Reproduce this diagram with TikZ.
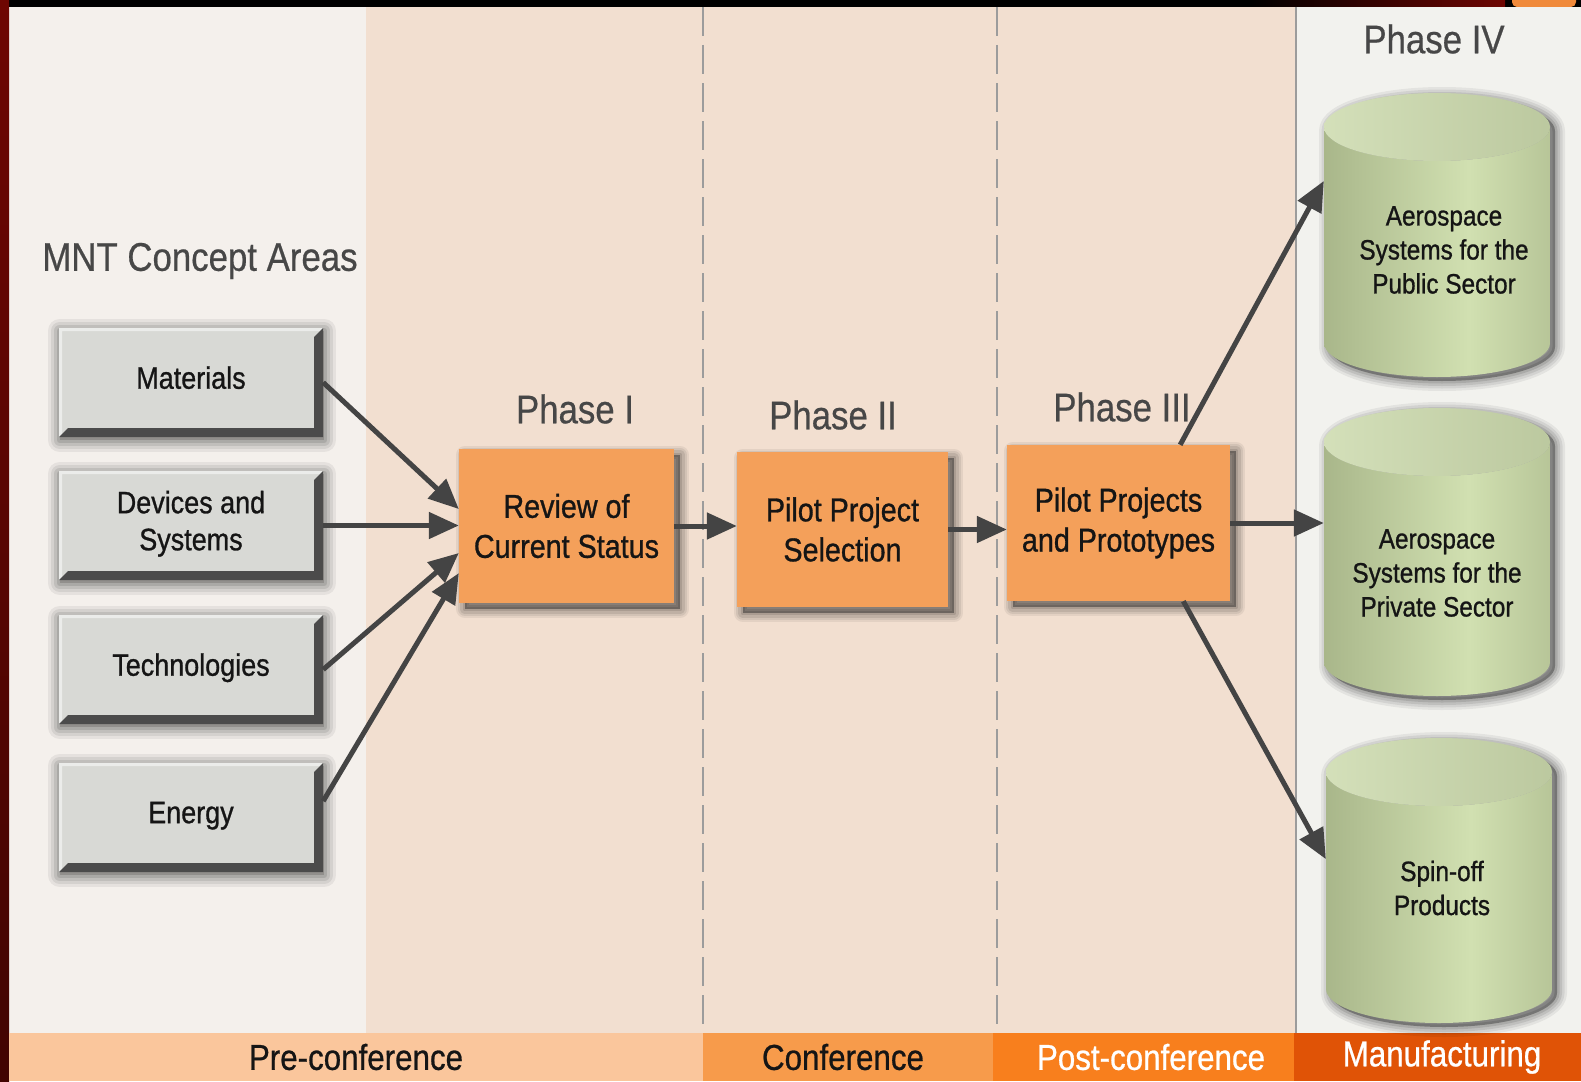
\documentclass[tikz,border=0pt]{standalone}
\usepackage{fontspec}
\setmainfont{Liberation Sans}[FakeStretch=0.87]
\usetikzlibrary{arrows.meta,calc}

\definecolor{leftbg}{HTML}{F4F0EC}
\definecolor{peach}{HTML}{F2DFD0}
\definecolor{rightbg}{HTML}{F2F2EE}
\definecolor{bandA}{HTML}{FAC69C}
\definecolor{bandB}{HTML}{F79B4B}
\definecolor{bandC}{HTML}{F87F1D}
\definecolor{bandD}{HTML}{E05306}
\definecolor{boxgray}{HTML}{D8D9D5}
\definecolor{bevel}{HTML}{4B4B4B}
\definecolor{stepor}{HTML}{F4A05A}
\definecolor{arrowc}{HTML}{444444}
\definecolor{phasec}{HTML}{474747}
\definecolor{sepline}{HTML}{9C9C9C}
\definecolor{drumdark}{HTML}{909D72}
\definecolor{drumlight}{HTML}{D1E0B1}
\definecolor{drumtop}{HTML}{CCDAAD}
\definecolor{framered}{HTML}{6E0602}
\definecolor{frameorange}{HTML}{F08A3A}
\definecolor{inktext}{HTML}{151515}

\pgfdeclarelayer{bg}
\pgfdeclarelayer{shade}
\pgfsetlayers{bg,shade,main}

\pgfdeclarehorizontalshading{drumbody}{100bp}{color(0bp)=(drumdark);
  color(18bp)=(drumdark!75!drumlight); color(57bp)=(drumlight);
  color(82bp)=(drumdark!55!drumlight); color(100bp)=(drumdark)}

% soft shadow: core opacity, spread (pt), path
\newcommand\softshade[3]{%
  \fill[black, opacity=#1] #3;
  \draw[black, opacity=0.06, line width=4*#2, line join=round] #3;
  \draw[black, opacity=0.07, line width=3*#2, line join=round] #3;
  \draw[black, opacity=0.09, line width=2*#2, line join=round] #3;
  \draw[black, opacity=0.11, line width=#2, line join=round] #3;
}
% shadow behind a rectangular node: name, dx, dy, core opacity, spread
\newcommand\boxshade[5]{%
  \softshade{#4}{#5}{([shift={(#2,#3)}]#1.south west) rectangle ([shift={(#2,#3)}]#1.north east)}}

% cylinder outline: centre x, top y, bottom y
\newcommand\drumoutline[3]{(#1-113,#2+34) -- (#1-113,#3-34)
    arc[start angle=180, end angle=360, x radius=113pt, y radius=34pt]
    -- (#1+113,#2+34)
    arc[start angle=0, end angle=180, x radius=113pt, y radius=34pt] -- cycle}

% cylinder: centre x, top y, bottom y
\newcommand\drumshape[3]{%
  \begin{scope}[xshift=5pt, yshift=-4pt]
    \softshade{0.3}{5pt}{\drumoutline{#1}{#2}{#3}}
  \end{scope}
  \shade[shading=drumbody]
    (#1-113,#2+34) -- (#1-113,#3-34)
    arc[start angle=180, end angle=360, x radius=113pt, y radius=34pt]
    -- (#1+113,#2+34)
    arc[start angle=0, end angle=-180, x radius=113pt, y radius=34pt] -- cycle;
  \shade[left color=drumtop!85!white, right color=drumtop!92!black]
    (#1,#2+34) ellipse[x radius=113pt, y radius=34pt];
}

\begin{document}
\begin{tikzpicture}[x=1pt,y=-1pt,
  areabox/.style={fill=boxgray, minimum width=264pt, minimum height=109pt,
    inner sep=0pt, align=center, text=inktext,
    font={\fontsize{31}{37}\selectfont\addfontfeature{FakeBold=0.9}},
    execute at end node={\rule[-10pt]{0pt}{10pt}},
    path picture={
      \fill[white,opacity=0.5] (path picture bounding box.south west)
        -- (path picture bounding box.north west)
        -- (path picture bounding box.north east)
        -- ([shift={(-3pt,-3pt)}]path picture bounding box.north east)
        -- ([shift={(3pt,-3pt)}]path picture bounding box.north west)
        -- ([shift={(3pt,3pt)}]path picture bounding box.south west) -- cycle;
      \fill[bevel] (path picture bounding box.north east)
        -- (path picture bounding box.south east)
        -- (path picture bounding box.south west)
        -- ([shift={(9pt,9pt)}]path picture bounding box.south west)
        -- ([shift={(-9pt,9pt)}]path picture bounding box.south east)
        -- ([shift={(-9pt,-9pt)}]path picture bounding box.north east) -- cycle;
    }},
  stepbox/.style={fill=stepor, inner sep=0pt, align=center, text=inktext,
    font={\fontsize{33}{40}\selectfont\addfontfeature{FakeBold=0.9}}},
  drumarea/.style={minimum width=226pt, inner sep=0pt},
  drumtext/.style={align=center, text=inktext,
    font={\fontsize{28}{34}\selectfont\addfontfeature{FakeBold=0.9}}},
  phase/.style={text=phasec,
    font={\fontsize{40}{48}\selectfont\addfontfeature{FakeBold=0.5}}},
  band/.style={text=inktext,
    font={\fontsize{36}{40}\selectfont\addfontfeature{FakeBold=0.7}}},
  flow/.style={draw=arrowc, line width=5pt,
    -{Triangle[length=30pt, width=26pt]}},
  divider/.style={draw=sepline, line width=1.5pt},
]
\useasboundingbox (0,0) rectangle (1581,1081);

\begin{pgfonlayer}{bg}
% background panels
\fill[leftbg] (0,0) rectangle (366,1033);
\fill[peach] (366,0) rectangle (1296,1033);
\fill[rightbg] (1296,0) rectangle (1581,1033);

% outer frame strips
\fill[black] (0,0) rectangle (1581,7);
\shade[left color=black, right color=framered] (1250,0) rectangle (1505,7);
\fill[frameorange, rounded corners=5pt] (1512,-10) rectangle (1576,7);
\shade[top color=framered, bottom color=framered!60!black] (0,0) rectangle (9,1081);

% phase separators
\draw[divider, dash pattern=on 29pt off 9pt] (703,7) -- (703,1033);
\draw[divider, dash pattern=on 29pt off 9pt] (997,7) -- (997,1033);
\draw[divider, line width=1.2pt] (1296,7) -- (1296,1033);

% bottom timeline bands
\fill[bandA] (9,1033) rectangle (703,1081);
\fill[bandB] (703,1033) rectangle (993,1081);
\fill[bandC] (993,1033) rectangle (1294,1081);
\fill[bandD] (1294,1033) rectangle (1581,1081);
\end{pgfonlayer}

\node[band] (bpre) at (356,1057) {Pre-conference};
\node[band] (bconf) at (843,1057) {Conference};
\node[band, text=white] (bpost) at (1151,1057) {Post-conference};
\node[band, text=white] (bmanu) at (1442,1057) {Manufacturing};

% headings
\node[phase] (mnt) at (200,261) {MNT Concept Areas};
\node[phase] (ph1) at (575,409) {Phase I};
\node[phase] (ph2) at (833,415) {Phase II};
\node[phase] (ph3) at (1122,407) {Phase III};
\node[phase] (ph4) at (1434,39) {Phase IV};

% concept areas
\node[areabox] (mat) at (191,382.5) {Materials};
\node[areabox] (dev) at (191,525.5) {Devices and\\Systems};
\node[areabox] (tech) at (191,669.5) {Technologies};
\node[areabox] (ener) at (191,817.5) {Energy};

% phase steps
\node[stepbox, minimum width=215pt, minimum height=154pt] (rev) at (566.5,526)
  {Review of\\Current Status};
\node[stepbox, minimum width=211pt, minimum height=155pt] (sel) at (842.5,529.5)
  {Pilot Project\\Selection};
\node[stepbox, minimum width=223pt, minimum height=156pt] (proj) at (1118.5,523)
  {Pilot Projects\\and Prototypes};

% soft shadows under the boxes
\begin{pgfonlayer}{shade}
\boxshade{mat}{1pt}{-3pt}{0.15}{6pt}
\boxshade{dev}{1pt}{-3pt}{0.15}{6pt}
\boxshade{tech}{1pt}{-3pt}{0.15}{6pt}
\boxshade{ener}{1pt}{-3pt}{0.15}{6pt}
\boxshade{rev}{6pt}{-6pt}{0.35}{4.5pt}
\boxshade{sel}{6pt}{-6pt}{0.35}{4.5pt}
\boxshade{proj}{6pt}{-6pt}{0.35}{4.5pt}
\end{pgfonlayer}

% outcome cylinders
\drumshape{1437}{93}{377}
\drumshape{1437}{408}{696}
\drumshape{1439}{738}{1023}
\node[drumarea, minimum height=284pt] (c1) at (1437,235) {};
\node[drumarea, minimum height=288pt] (c2) at (1437,552) {};
\node[drumarea, minimum height=285pt] (c3) at (1439,880.5) {};
\node[drumtext] (t1) at (1444,250) {Aerospace\\Systems for the\\Public Sector};
\node[drumtext] (t2) at (1437,573) {Aerospace\\Systems for the\\Private Sector};
\node[drumtext] (t3) at (1442,888) {Spin-off\\Products};

% connectors
\draw[flow] (mat.east) -- ($(rev.north west)!0.39!(rev.south west)$);
\draw[flow] (dev.east) -- (dev.east -| rev.west);
\draw[flow] (tech.east) -- ($(rev.north west)!0.675!(rev.south west)$);
\draw[flow] ($(ener.north east)!0.35!(ener.south east)$)
  -- ($(rev.north west)!0.805!(rev.south west)$);
\draw[flow] (rev.east) -- (rev.east -| sel.west);
\draw[flow] (sel.east) -- (sel.east -| proj.west);
\draw[flow] ($(proj.north west)!0.776!(proj.north east)$)
  -- ($(c1.north west)!0.31!(c1.south west)$);
\draw[flow] (proj.east) -- (proj.east -| c2.west);
\draw[flow] ($(proj.south west)!0.79!(proj.south east)$)
  -- ($(c3.north west)!0.425!(c3.south west)$);
\end{tikzpicture}
\end{document}
